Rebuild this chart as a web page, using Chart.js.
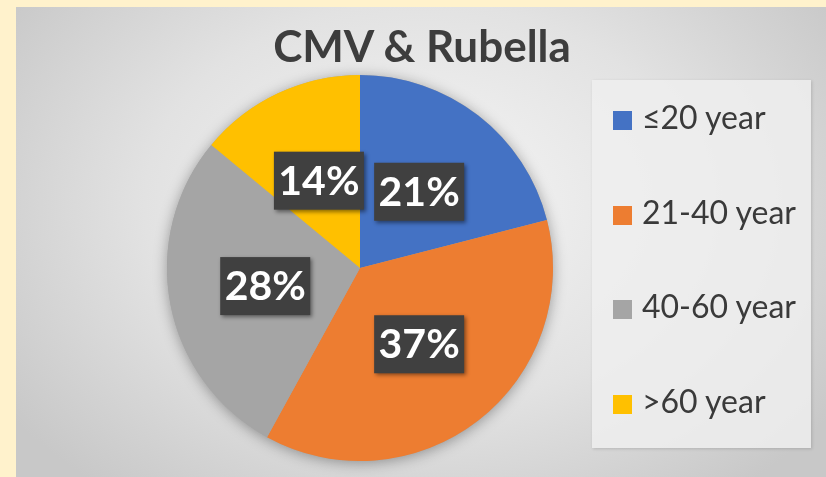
<!DOCTYPE html>
<html lang="en">
<head>
    <meta charset="UTF-8">
    <title>CMV & Rubella</title>
    <script src="https://cdn.jsdelivr.net/npm/chart.js"></script>
    <style>
        body {
            margin: 0;
            width: 826px;
            height: 477px;
            overflow: hidden;
            background-color: #fff2cc;
            font-family: Lato, "Open Sans", sans-serif;
        }

        .frame {
            position: absolute;
            left: 16px;
            top: 7px;
            width: 810px;
            height: 470px;
            background: radial-gradient(ellipse 62% 78% at 50% 42%, #f6f6f6 0%, #e2e2e2 55%, #c8c8c8 100%);
        }

        .frame canvas {
            position: absolute;
            left: 0;
            top: 0;
        }

        .title {
            position: absolute;
            left: 0;
            width: 812px;
            top: 12px;
            text-align: center;
            font-weight: bold;
            font-size: 44px;
            color: #3d3d3d;
        }

        .legend {
            position: absolute;
            left: 576px;
            top: 73px;
            width: 219px;
            height: 368px;
            background: rgba(238, 238, 238, 0.85);
            box-shadow: 1px 1px 3px rgba(0, 0, 0, 0.15);
        }

        .legend div {
            position: absolute;
            left: 21px;
            height: 36px;
            line-height: 36px;
            font-size: 32px;
            color: #3a3a3a;
            white-space: nowrap;
        }

        .legend span {
            display: inline-block;
            width: 19px;
            height: 19px;
            margin-right: 10px;
            vertical-align: -1px;
        }
    </style>
</head>
<body>
    <div class="frame">
        <canvas id="pieChart" width="810" height="470"></canvas>
        <div class="title">CMV &amp; Rubella</div>
        <div class="legend" id="legend"></div>
    </div>

    <script>
        // data
        const categories = ['≤20 year', '21-40 year', '40-60 year', '>60 year'];
        const shares = [21, 37, 28, 14];
        const colors = ['#4472c4', '#ed7d31', '#a5a5a5', '#ffc000'];

        // legend in html
        const legend = document.getElementById('legend');
        categories.forEach((name, i) => {
            const row = document.createElement('div');
            row.style.top = (19 + i * 94.7) + 'px';
            row.innerHTML = '<span style="background:' + colors[i] + '"></span>' + name;
            legend.appendChild(row);
        });

        // soft shadow under the pie
        const pieShadow = {
            id: 'pieShadow',
            beforeDatasetsDraw(chart) {
                const arc = chart.getDatasetMeta(0).data[0];
                const ctx = chart.ctx;
                ctx.save();
                ctx.shadowColor = 'rgba(0, 0, 0, 0.35)';
                ctx.shadowBlur = 14;
                ctx.shadowOffsetY = 2;
                ctx.fillStyle = '#a5a5a5';
                ctx.beginPath();
                ctx.arc(arc.x, arc.y, arc.outerRadius, 0, Math.PI * 2);
                ctx.fill();
                ctx.restore();
            }
        };

        // percent labels in dark boxes
        const boxLabels = {
            id: 'boxLabels',
            afterDatasetsDraw(chart) {
                const ctx = chart.ctx;
                const total = shares.reduce((a, b) => a + b, 0);
                chart.getDatasetMeta(0).data.forEach((arc, i) => {
                    const p = arc.getCenterPoint();
                    const text = Math.round(shares[i] / total * 100) + '%';
                    ctx.save();
                    ctx.shadowColor = 'rgba(0, 0, 0, 0.45)';
                    ctx.shadowBlur = 4;
                    ctx.shadowOffsetX = 2;
                    ctx.shadowOffsetY = 2;
                    ctx.fillStyle = '#404040';
                    ctx.fillRect(p.x - 45, p.y - 29, 90, 58);
                    ctx.restore();
                    ctx.save();
                    ctx.fillStyle = '#ffffff';
                    ctx.font = 'bold 41px Lato';
                    ctx.textAlign = 'center';
                    ctx.textBaseline = 'middle';
                    ctx.fillText(text, p.x, p.y + 1);
                    ctx.restore();
                });
            }
        };

        new Chart(document.getElementById('pieChart'), {
            type: 'pie',
            data: {
                labels: categories,
                datasets: [{
                    data: shares,
                    backgroundColor: colors,
                    borderWidth: 0
                }]
            },
            options: {
                responsive: false,
                animation: false,
                layout: {
                    padding: { top: 68, bottom: 16, left: 150, right: 272 }
                },
                plugins: {
                    legend: { display: false },
                    title: { display: false },
                    tooltip: { enabled: false }
                }
            },
            plugins: [pieShadow, boxLabels]
        });
    </script>
</body>
</html>
